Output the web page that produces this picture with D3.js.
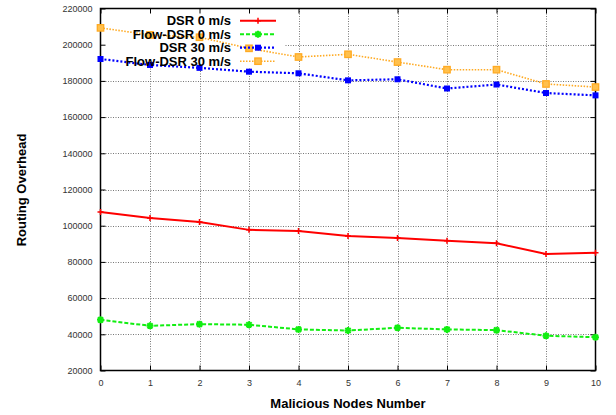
<!DOCTYPE html>
<html><head><meta charset="utf-8">
<script src="https://cdn.jsdelivr.net/npm/d3@7"></script>
<style>body{margin:0;background:#fff}svg{display:block}text{font-family:"Liberation Sans",Arial,sans-serif}</style>
</head><body><svg id="c" width="616" height="415"></svg>
<script>
const xValues = [0,1,2,3,4,5,6,7,8,9,10];
const yTicks = [20000,40000,60000,80000,100000,120000,140000,160000,180000,200000,220000];
const seriesNames = ["DSR 0 m/s","Flow-DSR 0 m/s","DSR 30 m/s","Flow-DSR 30 m/s"];
const dsr0 = [107600,104300,102100,97700,97100,94300,93200,91700,90300,84400,85000];
const flowDsr0 = [48000,44700,45600,45300,42700,42100,43600,42700,42300,39200,38400];
const dsr30 = [192100,188800,187200,185100,184200,180300,180900,175800,178000,173300,172000];
const flowDsr30 = [209300,205400,204100,198000,193200,194700,190400,186200,186200,178300,176600];
const xLabel = "Malicious Nodes Number";
const yLabel = "Routing Overhead";

const svg = d3.select("#c");
const L=100.5, R=595.5, T=8.5, B=370.5;
const x = d3.scaleLinear().domain([0,10]).range([L,R]);
const y = d3.scaleLinear().domain([20000,220000]).range([B,T]);

// grid
const g = svg.append("g");
g.selectAll(".gx").data(xValues.slice(1,-1)).join("line")
  .attr("x1",d=>Math.round(x(d))+0.5).attr("x2",d=>Math.round(x(d))+0.5).attr("y1",T).attr("y2",B)
  .attr("stroke","#777").attr("stroke-width",1).attr("stroke-dasharray","1,1.5");
g.selectAll(".gy").data(yTicks.slice(1,-1)).join("line")
  .attr("y1",d=>Math.round(y(d))+0.5).attr("y2",d=>Math.round(y(d))+0.5).attr("x1",L).attr("x2",R)
  .attr("stroke","#777").attr("stroke-width",1).attr("stroke-dasharray","1,1.5");

// legend background (opaque key)
svg.append("rect").attr("x",L+1).attr("y",T+1).attr("width",283-L).attr("height",67-T).attr("fill","#fff");

// axes
const xAxis = d3.axisBottom(x).tickValues(xValues).tickSize(-5).tickPadding(9).tickFormat(d3.format("d"));
const yAxis = d3.axisLeft(y).tickValues(yTicks).tickSize(-5).tickPadding(8).tickFormat(d3.format("d"));
const ax = svg.append("g").attr("transform",`translate(0,${B})`).call(xAxis);
const ay = svg.append("g").attr("transform",`translate(${L},0)`).call(yAxis);
const axTop = svg.append("g").attr("transform",`translate(0,${T})`).call(d3.axisTop(x).tickValues(xValues).tickSize(-5).tickFormat(""));
const ayR = svg.append("g").attr("transform",`translate(${R},0)`).call(d3.axisRight(y).tickValues(yTicks).tickSize(-5).tickFormat(""));
[ax,ay,axTop,ayR].forEach(a=>{
  a.select(".domain").remove();
  a.selectAll(".tick line").attr("stroke","#000").attr("stroke-width",1);
  a.selectAll("text").attr("font-size",9).attr("fill","#333").attr("font-family","'Liberation Sans',Arial,sans-serif");
});
svg.append("rect").attr("x",L).attr("y",T).attr("width",R-L).attr("height",B-T)
  .attr("fill","none").attr("stroke","#000").attr("stroke-width",1.5);

// series
const styles = [
  {data:dsr0,color:"#ff0000",w:2,dash:null,marker:"plus"},
  {data:flowDsr0,color:"#11ee11",w:2,dash:"4,2",marker:"star"},
  {data:dsr30,color:"#0000ff",w:2.2,dash:"2,2",marker:"fsq"},
  {data:flowDsr30,color:"#ffaa22",w:1.6,dash:"1.5,1.5",marker:"osq"}
];
const line = d3.line().x((d,i)=>x(xValues[i])).y(d=>y(d));
function marker(sel,type,color){
  if(type==="plus"){
    sel.append("path").attr("d","M-3,0H3M0,-3V3").attr("stroke",color).attr("stroke-width",1.5);
  } else if(type==="star"){
    sel.append("path").attr("d","M-3.5,0H3.5M0,-3.5V3.5M-2.6,-2.6L2.6,2.6M-2.6,2.6L2.6,-2.6").attr("stroke",color).attr("stroke-width",2);
  } else if(type==="fsq"){
    sel.append("rect").attr("x",-3).attr("y",-3).attr("width",6).attr("height",6).attr("fill",color);
  } else {
    sel.append("rect").attr("x",-3.2).attr("y",-3.2).attr("width",6.4).attr("height",6.4).attr("fill","#ffc04d").attr("stroke",color).attr("stroke-width",1.3);
  }
}
styles.forEach(s=>{
  svg.append("path").datum(s.data).attr("d",line).attr("fill","none").attr("stroke",s.color)
    .attr("stroke-width",s.w).attr("stroke-dasharray",s.dash);
  svg.selectAll(null).data(s.data).join("g")
    .attr("transform",(d,i)=>`translate(${x(xValues[i])},${y(d)})`)
    .each(function(){marker(d3.select(this),s.marker,s.color);});
});

// legend
const legY = [20.7,34.2,47.7,61.2];
seriesNames.forEach((n,i)=>{
  const s = styles[i];
  svg.append("text").attr("x",231).attr("y",legY[i]).attr("dy","0.35em").attr("text-anchor","end")
    .attr("font-size",13).attr("font-weight","bold").attr("fill","#000").text(n);
  svg.append("line").attr("x1",240).attr("x2",276).attr("y1",legY[i]).attr("y2",legY[i])
    .attr("stroke",s.color).attr("stroke-width",s.w).attr("stroke-dasharray",s.dash);
  const m = svg.append("g").attr("transform",`translate(258,${legY[i]})`);
  marker(m,s.marker,s.color);
});

// axis titles
svg.append("text").attr("x",(L+R)/2).attr("y",408).attr("text-anchor","middle")
  .attr("font-size",13).attr("font-weight","bold").text(xLabel);
svg.append("text").attr("transform","translate(26,190) rotate(-90)").attr("text-anchor","middle")
  .attr("font-size",13).attr("font-weight","bold").text(yLabel);
</script></body></html>
